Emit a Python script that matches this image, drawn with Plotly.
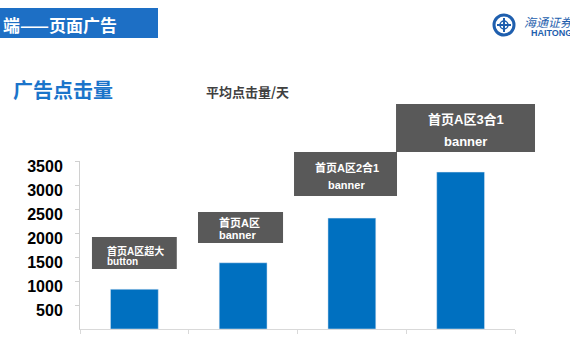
import plotly.graph_objects as go

# ---- data ----
categories = ["首页A区超大 button", "首页A区 banner", "首页A区2合1 banner", "首页A区3合1 banner"]
clicks = [830, 1380, 2310, 3270]
label_line1 = ["首页A区超大", "首页A区", "首页A区2合1", "首页A区3合1"]
label_line2 = ["button", "banner", "banner", "banner"]
y_ticks = [500, 1000, 1500, 2000, 2500, 3000, 3500]

W, H = 570, 360
L, R, T, B = 80, 55, 161, 31
PW, PH = W - L - R, H - T - B
YMAX = 3500
n = len(categories)

def px(x):  # pixel x -> paper
    return (x - L) / PW

def py(y):  # pixel y -> paper
    return (H - B - y) / PH

def cx(i, off):  # category index + offset (category units) -> paper
    return (i + 0.5 + off) / n

def cy(v):  # data value -> paper
    return v / YMAX

fig = go.Figure(go.Bar(
    x=categories, y=clicks, marker_color="#0070C0", width=0.44,
    hoverinfo="x+y"))

shapes = []
annotations = []

# header bar
shapes.append(dict(type="rect", xref="paper", yref="paper",
                   x0=px(0), x1=px(158), y0=py(38), y1=py(8),
                   fillcolor="#1D6FC5", line=dict(width=0), layer="below"))
annotations.append(dict(xref="paper", yref="paper", x=px(1), y=py(24),
                        xanchor="left", yanchor="middle", showarrow=False,
                        text="端——页面广告",
                        font=dict(family="Noto Sans CJK SC", size=17, color="white", weight="bold")))

# logo
LOGO = "#1F5FAE"
shapes.append(dict(type="circle", xref="paper", yref="paper",
                   x0=px(494), x1=px(514), y0=py(35), y1=py(15),
                   line=dict(color=LOGO, width=3)))
shapes.append(dict(type="line", xref="paper", yref="paper",
                   x0=px(497), x1=px(511), y0=py(25), y1=py(25),
                   line=dict(color=LOGO, width=2)))
shapes.append(dict(type="line", xref="paper", yref="paper",
                   x0=px(504), x1=px(504), y0=py(18), y1=py(32),
                   line=dict(color=LOGO, width=2)))
shapes.append(dict(type="circle", xref="paper", yref="paper",
                   x0=px(500), x1=px(508), y0=py(29), y1=py(21),
                   line=dict(color=LOGO, width=1.5)))
annotations.append(dict(xref="paper", yref="paper", x=px(522), y=py(21),
                        xanchor="left", yanchor="middle", showarrow=False,
                        text="<i>海通证券</i>",
                        font=dict(family="Noto Sans CJK SC", size=12, color=LOGO)))
annotations.append(dict(xref="paper", yref="paper", x=px(529), y=py(33),
                        xanchor="left", yanchor="middle", showarrow=False,
                        text="HAITONG",
                        font=dict(family="Liberation Sans", size=9, color=LOGO, weight="bold")))

# section title and chart title
annotations.append(dict(xref="paper", yref="paper", x=px(11), y=py(89),
                        xanchor="left", yanchor="middle", showarrow=False,
                        text="广告点击量",
                        font=dict(family="Noto Sans CJK SC", size=20, color="#1B74CA", weight="bold")))
annotations.append(dict(xref="paper", yref="paper", x=px(204), y=py(92),
                        xanchor="left", yanchor="middle", showarrow=False,
                        text="平均点击量/天",
                        font=dict(family="Noto Sans CJK SC", size=13, color="#404040", weight="bold")))

# label boxes (category offsets / value levels)
box_x = [(-0.39, 0.39), (-0.415, 0.367), (-0.532, 0.415), (-0.594, 0.684)]
box_y = [(1250, 1917), (1792, 2437), (2771, 3687), (3687, 4687)]
txt_x = [-0.27, -0.24, -0.045, 0.045]
txt_anchor = ["left", "left", "center", "center"]
txt_y1 = [1625, 2229, 3375, 4375]
txt_y2 = [1396, 1958, 3000, 3896]
txt_size = [10, 11, 11, 13]
for i in range(n):
    shapes.append(dict(type="rect", xref="paper", yref="paper",
                       x0=cx(i, box_x[i][0]), x1=cx(i, box_x[i][1]),
                       y0=cy(box_y[i][0]), y1=cy(box_y[i][1]),
                       fillcolor="#595959", line=dict(width=0)))
    for t, yy in ((label_line1[i], txt_y1[i]), (label_line2[i], txt_y2[i])):
        annotations.append(dict(xref="paper", yref="paper",
                                x=cx(i, txt_x[i]), y=cy(yy),
                                xanchor=txt_anchor[i], yanchor="middle", showarrow=False,
                                text=t,
                                font=dict(family="Liberation Sans, Noto Sans CJK SC",
                                          size=txt_size[i], color="white", weight="bold")))

fig.update_layout(
    width=W, height=H,
    margin=dict(l=L, r=R, t=T, b=B),
    paper_bgcolor="white", plot_bgcolor="white",
    showlegend=False,
    shapes=shapes, annotations=annotations,
    xaxis=dict(showticklabels=False, showgrid=False, showline=True,
               linecolor="#D9D9D9", linewidth=1, ticks="outside",
               tickson="boundaries", ticklen=4, tickcolor="#D9D9D9"),
    yaxis=dict(range=[0, YMAX], tickvals=y_ticks, showgrid=False,
               showline=True, linecolor="#D0D0D0", linewidth=1,
               ticks="outside", ticklen=4, tickcolor="#D0D0D0",
               zeroline=False, ticklabelstandoff=9, ticklabelshift=5,
               tickfont=dict(family="Liberation Sans", size=16, color="black", weight="bold")),
)

fig.write_html("out.html", config={"displayModeBar": False},
               post_script="document.body.style.margin='0';document.body.style.overflow='hidden';")
